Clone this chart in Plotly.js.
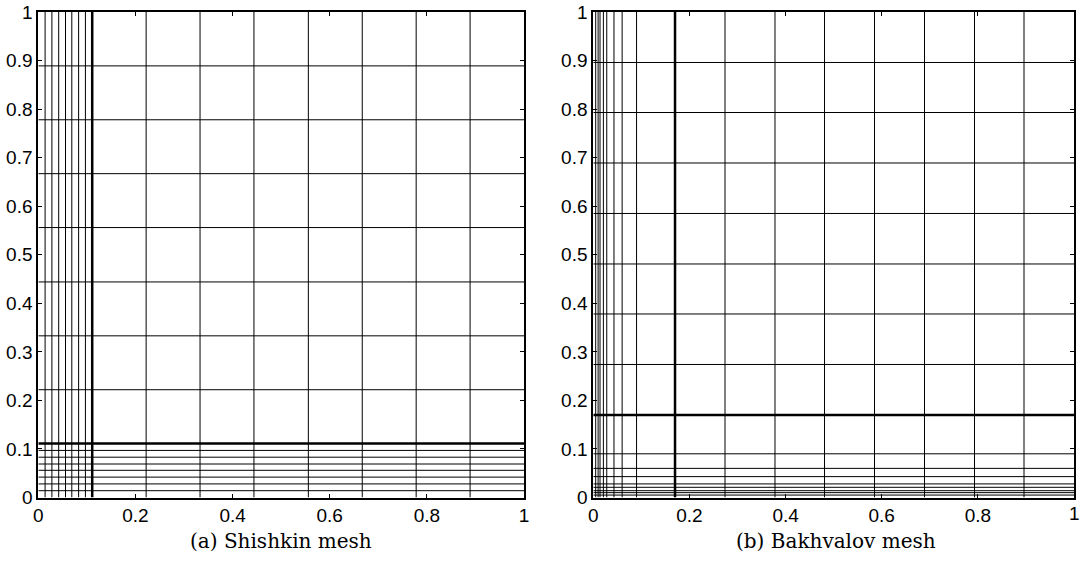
<!DOCTYPE html>
<html>
<head>
<meta charset="utf-8">
<script src="https://cdn.plot.ly/plotly-3.0.1.min.js"></script>
<style>html,body{margin:0;padding:0;background:#fff}#chart{width:1081px;height:561px}</style>
</head>
<body>
<div id="chart"></div>
<script>
// Shishkin mesh (panel a): fine lines inside the layer, transition point, coarse lines
const shishkinFine = [0.014, 0.028, 0.042, 0.056, 0.069, 0.083, 0.097];
const shishkinTau = 0.111;
const shishkinCoarse = [0.222, 0.333, 0.444, 0.556, 0.667, 0.778, 0.889];

// Bakhvalov mesh (panel b)
const bakhvalovFine = [0.005, 0.010, 0.014, 0.021, 0.028, 0.043, 0.060, 0.090];
const bakhvalovTau = 0.170;
const bakhvalovCoarse = [0.274, 0.378, 0.481, 0.585, 0.689, 0.793, 0.896];

const captions = ["(a) Shishkin mesh", "(b) Bakhvalov mesh"];
const xTickVals = [0, 0.2, 0.4, 0.6, 0.8, 1];
const xTickText = ["0", "0.2", "0.4", "0.6", "0.8", "1"];

function meshTraces(vals, width, xa, ya) {
  const vx = [], vy = [], hx = [], hy = [];
  vals.forEach(v => {
    vx.push(v, v, null); vy.push(0, 1, null);
    hx.push(0, 1, null); hy.push(v, v, null);
  });
  const base = {type: 'scatter', mode: 'lines', hoverinfo: 'skip', showlegend: false,
    line: {color: '#000', width: width}, xaxis: xa, yaxis: ya};
  return [Object.assign({x: vx, y: vy}, base), Object.assign({x: hx, y: hy}, base)];
}

const traces = [].concat(
  meshTraces(shishkinFine.concat(shishkinCoarse), 1, 'x', 'y'),
  meshTraces([shishkinTau], 2.5, 'x', 'y'),
  meshTraces(bakhvalovFine.concat(bakhvalovCoarse), 1, 'x2', 'y2'),
  meshTraces([bakhvalovTau], 2.5, 'x2', 'y2')
);

const W = 1081, H = 561;
const yDom = [(H - 497.5) / H, (H - 12) / H];
const tickFont = {family: 'Liberation Sans, Arial, sans-serif', size: 19, color: '#000'};
function axis(domain, dtick, anchor) {
  return {domain: domain, range: [0, 1], dtick: dtick, tick0: 0, ticks: 'inside', ticklen: 4,
    tickwidth: 1, tickcolor: '#000', showline: true, linewidth: 2, linecolor: '#000',
    mirror: 'ticks', showgrid: false, zeroline: false, tickfont: tickFont, anchor: anchor,
    fixedrange: true};
}

const xa2 = axis([593.3 / W, 1074 / W], 0.2, 'y2');
xa2.tickmode = 'array';
xa2.tickvals = xTickVals.slice(0, 5);
xa2.ticktext = xTickText.slice(0, 5);

const capFont = {family: 'DejaVu Serif, serif', size: 20, color: '#000'};
const layout = {
  width: W, height: H,
  margin: {l: 0, r: 0, t: 0, b: 0},
  paper_bgcolor: '#fff', plot_bgcolor: '#fff',
  xaxis: axis([38.3 / W, 524 / W], 0.2, 'y'),
  yaxis: axis(yDom, 0.1, 'x'),
  xaxis2: xa2,
  yaxis2: axis(yDom, 0.1, 'x2'),
  annotations: [
    {text: captions[0], x: 281 / W, y: (H - 541) / H, xref: 'paper', yref: 'paper',
     showarrow: false, xanchor: 'center', yanchor: 'middle', font: capFont},
    {text: captions[1], x: 836 / W, y: (H - 541) / H, xref: 'paper', yref: 'paper',
     showarrow: false, xanchor: 'center', yanchor: 'middle', font: capFont},
    {text: xTickText[5], x: xTickVals[5], y: 0, xref: 'x2', yref: 'y2', showarrow: false,
     xanchor: 'center', yanchor: 'top', yshift: -3, font: tickFont}
  ]
};

Plotly.newPlot('chart', traces, layout, {displayModeBar: false, staticPlot: true});
</script>
</body>
</html>
